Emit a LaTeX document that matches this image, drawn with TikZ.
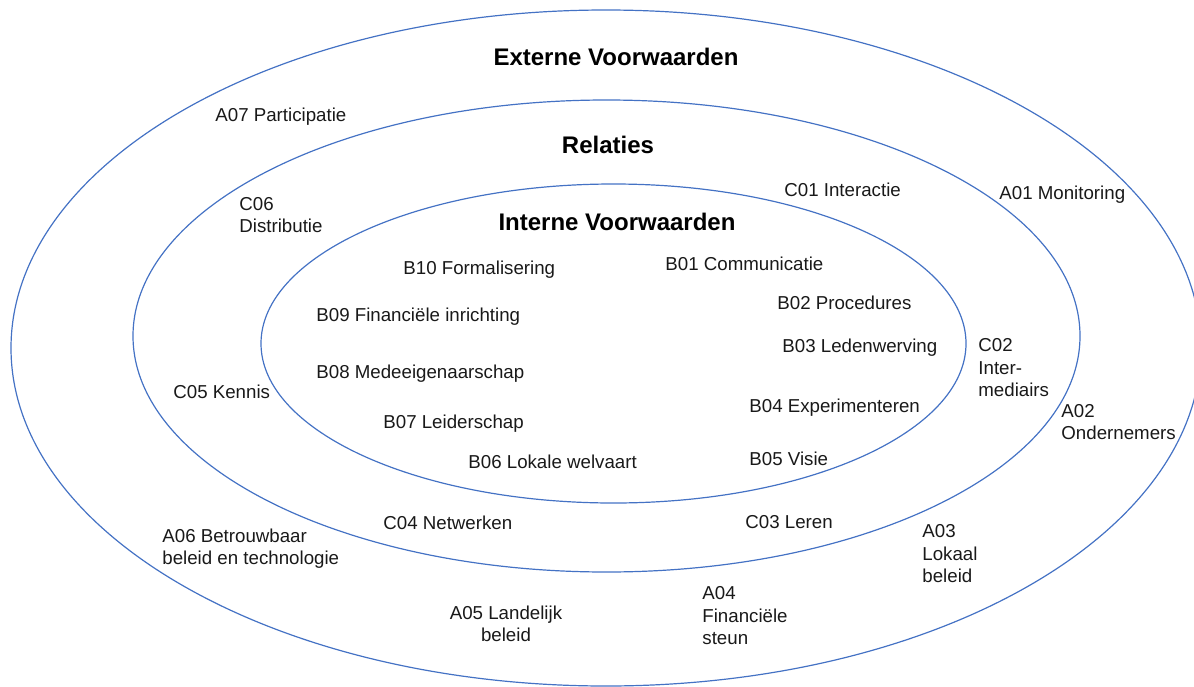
\documentclass[tikz,border=0pt]{standalone}
\usepackage{fontspec}
\setmainfont{Liberation Sans}
\definecolor{ringblue}{RGB}{68,114,196}
\tikzset{
  ring/.style={draw=ringblue, line width=0.6pt},
  lbl/.style={anchor=base west, inner sep=0pt, align=left, font=\fontsize{9.35}{11.2}\selectfont, text=black!90},
  lblc/.style={anchor=base, inner sep=0pt, align=center, font=\fontsize{9.35}{11.2}\selectfont, text=black!90},
  head/.style={anchor=base, inner sep=0pt, font=\fontsize{12}{14}\selectfont\bfseries, text=black}
}
\begin{document}
\begin{tikzpicture}[x=0.5pt, y=-0.5pt]
\useasboundingbox (0,0) rectangle (1194,686);
\clip (0,0) rectangle (1194,686);
% rings
\draw[ring] (606,348) ellipse [x radius=297.5pt, y radius=169pt];
\draw[ring] (606.5,336) ellipse [x radius=236.75pt, y radius=118pt];
\draw[ring] (613.5,343.5) ellipse [x radius=176.25pt, y radius=79.75pt];
% headings
\node[head] (hext) at (616,65.5) {Externe Voorwaarden};
\node[head] (hrel) at (608,153.5) {Relaties};
\node[head] (hint) at (617,230.5) {Interne Voorwaarden};
% outer ring labels (multi-line: y is baseline of last line)
\node[lbl] (a07) at (215,121.5) {A07 Participatie};
\node[lbl] (a01) at (999,199.5) {A01 Monitoring};
\node[lbl] (a02) at (1061,439.5) {A02\\Ondernemers};
\node[lbl] (a03) at (922,582.5) {A03\\Lokaal\\beleid};
\node[lbl] (a04) at (702,644.5) {A04\\Financiële\\steun};
\node[lblc] (a05) at (506,641.5) {A05 Landelijk\\beleid};
\node[lbl] (a06) at (162,564.5) {A06 Betrouwbaar\\beleid en technologie};
% middle ring labels
\node[lbl] (c06) at (239,232.5) {C06\\Distributie};
\node[lbl] (c01) at (784,196.5) {C01 Interactie};
\node[lbl] (c02) at (978,396.5) {C02\\Inter-\\mediairs};
\node[lbl] (c05) at (173,398.5) {C05 Kennis};
\node[lbl] (c04) at (383,529.5) {C04 Netwerken};
\node[lbl] (c03) at (745,528.5) {C03 Leren};
% inner ring labels
\node[lbl] (b10) at (403,274.5) {B10 Formalisering};
\node[lbl] (b01) at (665,270.5) {B01 Communicatie};
\node[lbl] (b02) at (777,309.5) {B02 Procedures};
\node[lbl] (b09) at (316,321.5) {B09 Financiële inrichting};
\node[lbl] (b03) at (782,352.5) {B03 Ledenwerving};
\node[lbl] (b08) at (316,378.5) {B08 Medeeigenaarschap};
\node[lbl] (b04) at (749,412.5) {B04 Experimenteren};
\node[lbl] (b07) at (383,428.5) {B07 Leiderschap};
\node[lbl] (b06) at (468,468.5) {B06 Lokale welvaart};
\node[lbl] (b05) at (749,465.5) {B05 Visie};
\end{tikzpicture}
\end{document}
